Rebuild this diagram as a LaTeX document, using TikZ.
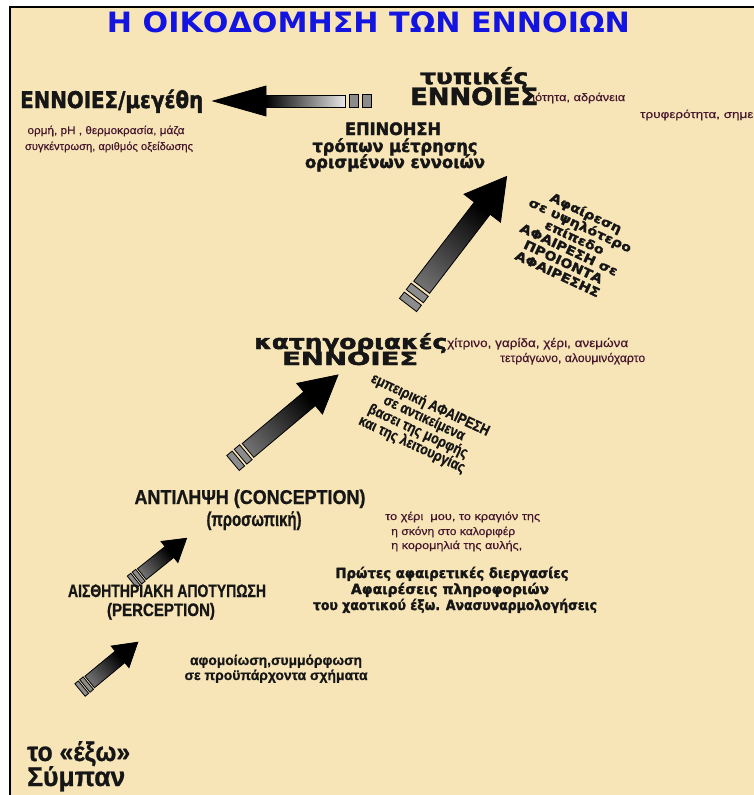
\documentclass[tikz,border=0pt]{standalone}
\usepackage{graphicx}
\usepackage{fontspec}
\setmainfont{Liberation Sans}
\newfontfamily\titlefam{DejaVu Sans}
\newfontfamily\heavy{DejaVu Sans}[BoldFeatures={FakeBold=2}]
\newfontfamily\heavyx{DejaVu Sans}[FakeStretch=1.15,BoldFeatures={FakeBold=1.8}]
\newfontfamily\narfam{Liberation Sans}[FakeStretch=0.85,BoldFeatures={FakeBold=0.8}]
\newfontfamily\smallfam{Liberation Sans}[FakeBold=0.4]
\definecolor{parch}{RGB}{247,229,184}
\definecolor{ink}{RGB}{22,22,22}
\definecolor{smallink}{RGB}{70,22,45}
\definecolor{titleblue}{RGB}{20,20,225}
\newcommand\fw[2]{\resizebox{#1pt}{\height}{#2}}
\tikzset{
  hv/.style={inner sep=0pt, text=ink, font=\heavy\bfseries\fontsize{#1}{#1}\selectfont},
  nr/.style={inner sep=0pt, text=ink, font=\narfam\bfseries\fontsize{#1}{#1}\selectfont},
  sm/.style={inner sep=0pt, text=smallink, font=\smallfam\fontsize{#1}{#1}\selectfont},
  stubstyle/.style={draw=black, line width=0.8pt, fill=black!45},
  shaftstyle/.style={draw=black, line width=0.8pt, left color=\tailcol, right color=black},
  headstyle/.style={draw=black, line width=0.8pt, fill=black, line join=miter},
}
\def\tailcol{black!50}
% #1 x, #2 y (tail end), #3 angle, #4 stub length, #5 shaft half width,
% #6 shaft end, #7 head half width, #8 tip position
\newcommand\fatarrow[8]{%
  \begin{scope}[transform canvas={shift={(#1,#2)},rotate=#3}]
    \pgfmathsetmacro\ga{0.4*#4}%
    \pgfmathsetmacro\sa{#4+\ga}%
    \pgfmathsetmacro\sb{2*#4+\ga}%
    \pgfmathsetmacro\sc{2*#4+2*\ga}%
    \pgfmathsetmacro\sw{1.08*#5}%
    \draw[stubstyle] (0,-\sw) rectangle (#4,\sw);
    \draw[stubstyle] (\sa,-\sw) rectangle (\sb,\sw);
    \draw[shaftstyle] (\sc,-#5) rectangle (#6,#5);
    \draw[headstyle] (#6,-#7) -- (#8,0) -- (#6,#7) -- cycle;
  \end{scope}}
\begin{document}
\begin{tikzpicture}[x=1pt,y=-1pt]
\useasboundingbox (0,0) rectangle (754,795);
% background
\fill[white] (0,0) rectangle (754,795);
\fill[parch] (10,7) rectangle (754,795);
\draw[black, line width=1.2pt] (754,7) -- (10,7) -- (10,795);

% title
\node[inner sep=0pt, text=titleblue, font=\titlefam\bfseries\fontsize{28}{28}\selectfont, anchor=base] (title) at (368.5,32) {\fw{523}{Η ΟΙΚΟΔΟΜΗΣΗ ΤΩΝ ΕΝΝΟΙΩΝ}};

% arrows
\def\tailcol{black!8}
\fatarrow{371}{101}{180}{9}{6}{105}{15}{158}
\def\tailcol{black!55}
\fatarrow{408}{305}{52.5}{8}{10}{122}{23}{162}
\fatarrow{233}{463}{40}{7}{9}{100}{20}{137}
\fatarrow{132}{582}{38.7}{4.5}{7}{48}{13.5}{70}
\fatarrow{80}{690}{39.6}{4.5}{7.5}{52}{14}{75}

% top left
\node[hv=23, anchor=base west] (ennmeg) at (20,108) {\fw{183}{ΕΝΝΟΙΕΣ/μεγέθη}};
\node[sm=11, anchor=base] (ormi1) at (106,134) {\fw{157}{ορμή, pH , θερμοκρασία, μάζα}};
\node[sm=11, anchor=base] (ormi2) at (109,150) {\fw{168}{συγκέντρωση, αριθμός οξείδωσης}};

% top right
\node[sm=11, anchor=base west] (idiot) at (532,101) {\fw{93}{ιότητα, αδράνεια}};
\node[sm=11, anchor=base west] (tryf) at (640,118) {\fw{124}{τρυφερότητα, σημεία}};
\node[hv=21, anchor=base west] (typ) at (420,84) {\fw{108}{τυπικές}};
\node[hv=24, anchor=base west] (enntop) at (410,105) {\fw{128}{ΕΝΝΟΙΕΣ}};
\node[hv=17, anchor=base] (epin) at (393,135) {\fw{96}{ΕΠΙΝΟΗΣΗ}};
\node[hv=17, anchor=base] (trop) at (395,152) {\fw{165}{τρόπων μέτρησης}};
\node[hv=17, anchor=base] (oris) at (395,168) {\fw{180}{ορισμένων εννοιών}};

% upper rotated block
\node[inner sep=0pt, text=ink, align=center, rotate=-25,
      font=\heavyx\bfseries\fontsize{12.5}{13.5}\selectfont] (afup) at (572,243)
  {Αφαίρεση\\σε υψηλότερο\\επίπεδο\\ΑΦΑΙΡΕΣΗ σε\\ΠΡΟΙΟΝΤΑ\\ΑΦΑΙΡΕΣΗΣ};

% middle
\node[sm=12, anchor=base west] (xitr) at (447,347) {\fw{181}{χίτρινο, γαρίδα, χέρι, ανεμώνα}};
\node[sm=12, anchor=base west] (tetr) at (500,362) {\fw{145}{τετράγωνο, αλουμινόχαρτο}};
\node[hv=20, anchor=base west] (katig) at (254,349) {\fw{193}{κατηγοριακές}};
\node[hv=18, anchor=base west] (ennmid) at (282,365) {\fw{136}{ΕΝΝΟΙΕΣ}};

\node[inner sep=0pt, text=ink, align=center, rotate=-25,
      font=\narfam\bfseries\fontsize{15}{14.5}\selectfont] (empi) at (421,425)
  {εμπειρική ΑΦΑΙΡΕΣΗ\\σε αντικείμενα\\βασει της μορφής\\και της λειτουργίας};

% conception
\node[nr=20, anchor=base] (antil) at (250,504) {\fw{231}{ΑΝΤΙΛΗΨΗ (CONCEPTION)}};
\node[nr=20, anchor=base] (pros) at (254,526) {\fw{95}{(προσωπική)}};

\node[sm=11, anchor=base west] (xeri1) at (385,520) {\fw{155}{το χέρι \ μου, το κραγιόν της}};
\node[sm=11, anchor=base west] (xeri2) at (391,535) {\fw{124}{η σκόνη στο καλοριφέρ}};
\node[sm=11, anchor=base west] (xeri3) at (391,549) {\fw{131}{η κορομηλιά της αυλής,}};

\node[hv=14, anchor=base] (prot1) at (452,578) {\fw{233}{Πρώτες αφαιρετικές διεργασίες}};
\node[hv=14, anchor=base] (prot2) at (450,594) {\fw{198}{Αφαιρέσεις πληροφοριών}};
\node[hv=14, anchor=base] (prot3) at (455,610) {\fw{284}{του χαοτικού έξω. Ανασυναρμολογήσεις}};

% perception
\node[nr=18, anchor=base] (aisth) at (167,597) {\fw{198}{ΑΙΣΘΗΤΗΡΙΑΚΗ ΑΠΟΤΥΠΩΣΗ}};
\node[nr=18, anchor=base] (perc) at (161,616) {\fw{108}{(PERCEPTION)}};

\node[nr=14, anchor=base] (afom1) at (276,665) {\fw{172}{αφομοίωση,συμμόρφωση}};
\node[nr=14, anchor=base] (afom2) at (276,680) {\fw{183}{σε προϋπάρχοντα σχήματα}};

% bottom
\node[nr=27, anchor=base west] (exo) at (27,761) {\fw{103}{το «έξω»}};
\node[nr=27, anchor=base west] (sympan) at (27,786) {\fw{98}{Σύμπαν}};
\end{tikzpicture}
\end{document}
